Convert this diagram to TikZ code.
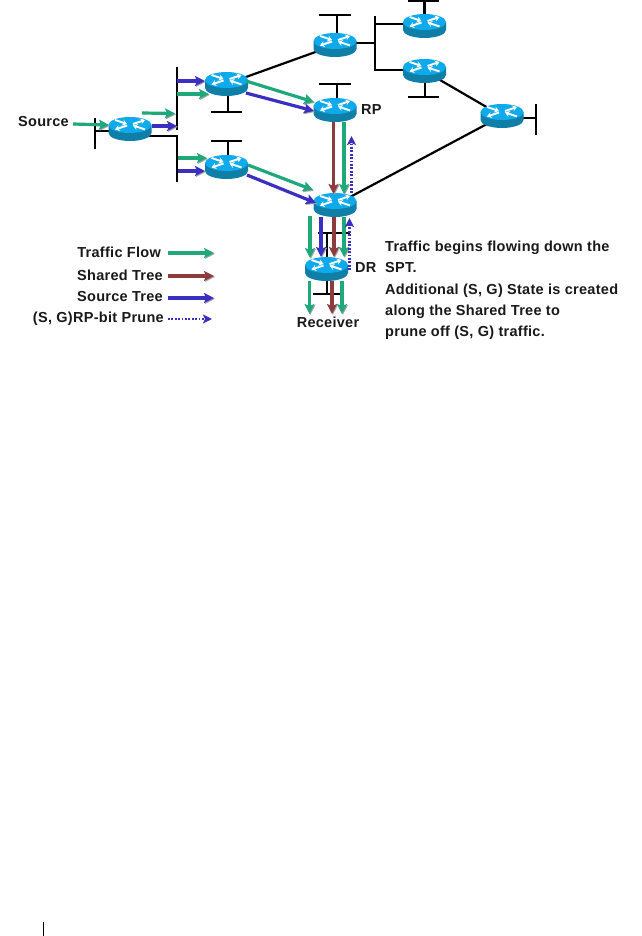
\documentclass[tikz,border=0pt]{standalone}
\usepackage{fontspec}
\setmainfont[LetterSpace=2]{Liberation Sans}
\usetikzlibrary{arrows.meta,backgrounds}
\definecolor{flowgreen}{HTML}{1FA87A}
\definecolor{sharedbrown}{HTML}{8E3B3E}
\definecolor{srcblue}{HTML}{3A2FC0}
\definecolor{rtop}{HTML}{0FAAEC}
\definecolor{rbody}{HTML}{0F7FA8}
\tikzset{
  routerbox/.style={rectangle,minimum width=43pt,minimum height=24pt,inner sep=0pt,outer sep=0pt},
  net/.style={draw=black,line width=2.2pt},
  flow/.style={line width=3.2pt,-{Stealth[length=10pt,width=10pt,inset=2pt]},
     preaction={draw=black!35,fill=black!35,transform canvas={xshift=0.9pt,yshift=-0.9pt}}},
  greenflow/.style={flow,draw=flowgreen,fill=flowgreen},
  brownflow/.style={flow,draw=sharedbrown,fill=sharedbrown},
  blueflow/.style={flow,draw=srcblue,fill=srcblue},
  pruneflow/.style={draw=srcblue,line width=2.8pt,dash pattern=on 1.8pt off 1.6pt,-{Stealth[length=9pt,width=9pt,inset=2pt,sep=0pt]}},
  lbl/.style={font=\fontsize{14.5}{16}\selectfont\bfseries,inner sep=0pt,text=black!90},
  whitearrow/.style={draw=white,line width=1.9pt,-{Stealth[length=4.5pt,width=6pt]}}
}
\newcommand\router[3]{%
  \node[routerbox] (#1) at (#2,#3) {};
  \begin{scope}[shift={(#2,#3)}]
    \fill[rbody] (-21.5,-4) -- (-21.5,4) arc[start angle=180,end angle=360,x radius=21.5pt,y radius=8pt] -- (21.5,-4) -- cycle;
    \fill[rtop] (0,-4) ellipse [x radius=21.5pt,y radius=8pt];
    \draw[whitearrow] (-15,-9) -- (-3,-5);
    \draw[whitearrow] (-3,-3.5) -- (-15,0.5);
    \draw[whitearrow] (3,-5) -- (15,-9);
    \draw[whitearrow] (15,0.5) -- (3,-3.5);
  \end{scope}}
\begin{document}
\begin{tikzpicture}[x=1pt,y=-1pt]
\useasboundingbox (0,0) rectangle (641,936);
% routers
\router{Rs}{130}{129}
\router{Ra}{226.5}{84}
\router{Rb}{226.5}{167}
\router{Rt}{335}{45}
\router{RP}{335}{110}
\router{Rc}{424.5}{26}
\router{Rd}{424.5}{71}
\router{Re}{502}{116}
\router{Rm}{335}{205}
\router{DR}{326.5}{269}
% bus end points
\coordinate (b0a) at (95,118); \coordinate (b0b) at (95,149); \coordinate (b0m) at (95,131); \coordinate (rsW) at (112,131);
\coordinate (b1a) at (177,67); \coordinate (b1b) at (177,130);
\coordinate (b2a) at (177,136); \coordinate (b2b) at (177,182); \coordinate (b2s) at (148,136);
\coordinate (taS) at (228,94); \coordinate (taM) at (228,112); \coordinate (taL) at (211,112); \coordinate (taR) at (242,112);
\coordinate (tbS) at (228,157); \coordinate (tbM) at (228,141); \coordinate (tbL) at (211,141); \coordinate (tbR) at (242,141);
\coordinate (ttS) at (337,35); \coordinate (ttM) at (337,15); \coordinate (ttL) at (319,15); \coordinate (ttR) at (351,15);
\coordinate (tpS) at (337,100); \coordinate (tpM) at (337,84); \coordinate (tpL) at (319,84); \coordinate (tpR) at (351,84);
\coordinate (tcS) at (424.5,16); \coordinate (tcM) at (424.5,1); \coordinate (tcL) at (408,1); \coordinate (tcR) at (439,1);
\coordinate (tdS) at (425,81); \coordinate (tdM) at (425,97); \coordinate (tdL) at (408,97); \coordinate (tdR) at (439,97);
\coordinate (b3a) at (375,16); \coordinate (b3b) at (375,71); \coordinate (b3m) at (375,43); \coordinate (b3u) at (375,24); \coordinate (b3d) at (375,70);
\coordinate (rtE) at (350,43); \coordinate (rcW) at (410,24); \coordinate (rdW) at (410,70);
\coordinate (reE) at (518,118); \coordinate (beM) at (536,118); \coordinate (beA) at (536,104); \coordinate (beB) at (536,135);
\coordinate (m1L) at (318,233); \coordinate (m1R) at (350,233); \coordinate (m1M) at (327,233); \coordinate (m1S) at (327,260);
\coordinate (m2L) at (313,294); \coordinate (m2R) at (341,294); \coordinate (m2M) at (327,294); \coordinate (m2S) at (327,279);
% network lines, under the routers
\begin{pgfonlayer}{background}
\draw[net] (b0a) -- (b0b);
\draw[net] (b0m) -- (rsW);
\draw[net] (b1a) -- (b1b);
\draw[net] (b2s) -- (b2a) -- (b2b);
\draw[net] (taS) -- (taM); \draw[net] (taL) -- (taR);
\draw[net] (tbS) -- (tbM); \draw[net] (tbL) -- (tbR);
\draw[net] (ttS) -- (ttM); \draw[net] (ttL) -- (ttR);
\draw[net] (tpS) -- (tpM); \draw[net] (tpL) -- (tpR);
\draw[net] (tcS) -- (tcM); \draw[net] (tcL) -- (tcR);
\draw[net] (tdS) -- (tdM); \draw[net] (tdL) -- (tdR);
\draw[net] (b3a) -- (b3b);
\draw[net] (rtE) -- (b3m);
\draw[net] (b3u) -- (rcW);
\draw[net] (b3d) -- (rdW);
\draw[net] (reE) -- (beM); \draw[net] (beA) -- (beB);
\draw[net,shorten <=-8pt,shorten >=-8pt] (Ra) -- (Rt);
\draw[net,shorten <=-8pt,shorten >=-8pt] (Rd) -- (Re);
\draw[net,shorten <=-8pt,shorten >=-8pt] (Re) -- (Rm);
\draw[net] (m1L) -- (m1R); \draw[net] (m1M) -- (m1S);
\draw[net] (m2L) -- (m2R); \draw[net] (m2M) -- (m2S);
\end{pgfonlayer}
% flow end points
\coordinate (f1a) at (73,124); \coordinate (f1b) at (109,125);
\coordinate (f2a) at (142,113); \coordinate (f2b) at (175,113.5);
\coordinate (f3a) at (152,126); \coordinate (f3b) at (177,126);
\coordinate (f4a) at (177,81); \coordinate (f4b) at (205,81);
\coordinate (f5a) at (177,94); \coordinate (f5b) at (209,94);
\coordinate (f6a) at (178,158); \coordinate (f6b) at (207,158);
\coordinate (f7a) at (178,171); \coordinate (f7b) at (205,171);
\coordinate (f8a) at (246,81); \coordinate (f8b) at (314,102);
\coordinate (f9a) at (246,93); \coordinate (f9b) at (314,111);
\coordinate (f10a) at (248,165); \coordinate (f10b) at (313,190);
\coordinate (f11a) at (247,175); \coordinate (f11b) at (316,203);
\coordinate (f12a) at (333.5,122); \coordinate (f12b) at (333.5,194);
\coordinate (f13a) at (344,122); \coordinate (f13b) at (344,194);
\coordinate (f14a) at (351.5,193); \coordinate (f14b) at (351.5,136);
\coordinate (f15a) at (310,216); \coordinate (f15b) at (310,258);
\coordinate (f16a) at (321,217); \coordinate (f16b) at (321,257);
\coordinate (f17a) at (334,217); \coordinate (f17b) at (334,257);
\coordinate (f18a) at (344,217); \coordinate (f18b) at (344,257);
\coordinate (f19a) at (349.5,270); \coordinate (f19b) at (349.5,218);
\coordinate (f20a) at (309.5,281); \coordinate (f20b) at (309.5,314);
\coordinate (f21a) at (332,281); \coordinate (f21b) at (332,314);
\coordinate (f22a) at (342,281); \coordinate (f22b) at (342,314);
% flows
\draw[greenflow] (f1a) -- (f1b);
\draw[greenflow] (f2a) -- (f2b);
\draw[blueflow] (f3a) -- (f3b);
\draw[blueflow] (f4a) -- (f4b);
\draw[greenflow] (f5a) -- (f5b);
\draw[greenflow] (f6a) -- (f6b);
\draw[blueflow] (f7a) -- (f7b);
\draw[greenflow] (f8a) -- (f8b);
\draw[blueflow] (f9a) -- (f9b);
\draw[greenflow] (f10a) -- (f10b);
\draw[blueflow] (f11a) -- (f11b);
\draw[brownflow] (f12a) -- (f12b);
\draw[greenflow] (f13a) -- (f13b);
\draw[pruneflow] (f14a) -- (f14b);
\draw[greenflow] (f15a) -- (f15b);
\draw[blueflow] (f16a) -- (f16b);
\draw[brownflow] (f17a) -- (f17b);
\draw[greenflow] (f18a) -- (f18b);
\draw[pruneflow] (f19a) -- (f19b);
\draw[greenflow] (f20a) -- (f20b);
\draw[brownflow] (f21a) -- (f21b);
\draw[greenflow] (f22a) -- (f22b);
% labels
\node[lbl,anchor=west] (lsrc) at (18,122) {Source};
\node[lbl,anchor=west] (lrp) at (361,110) {RP};
\node[lbl,anchor=west] (ldr) at (355,268) {DR};
\node[lbl,anchor=center] (lrec) at (328,322) {Receiver};
% legend
\node[lbl,anchor=east] (l1) at (161,252) {Traffic Flow};
\node[lbl,anchor=east] (l2) at (163,275.5) {Shared Tree};
\node[lbl,anchor=east] (l3) at (163,297) {Source Tree};
\node[lbl,anchor=east] (l4) at (164,319) {(S, G)RP-bit Prune};
\coordinate (s1) at (168,253); \coordinate (s2) at (168,276); \coordinate (s3) at (168,298); \coordinate (s4) at (168,319);
\coordinate (e1) at (214,253); \coordinate (e2) at (214,276); \coordinate (e3) at (214,298); \coordinate (e4) at (212,319);
\draw[greenflow] (s1) -- (e1);
\draw[brownflow] (s2) -- (e2);
\draw[blueflow] (s3) -- (e3);
\draw[pruneflow] (s4) -- (e4);
% note
\node[lbl,anchor=north west,align=left,font=\fontsize{14.5}{21.4}\selectfont\bfseries] (note) at (385,240.5) {Traffic begins flowing down the\\SPT.\\Additional (S, G) State is created\\along the Shared Tree to\\prune off (S, G) traffic.};
% page rule
\coordinate (p1) at (43.5,922); \coordinate (p2) at (43.5,936);
\draw[black,line width=1pt] (p1) -- (p2);
\end{tikzpicture}
\end{document}
